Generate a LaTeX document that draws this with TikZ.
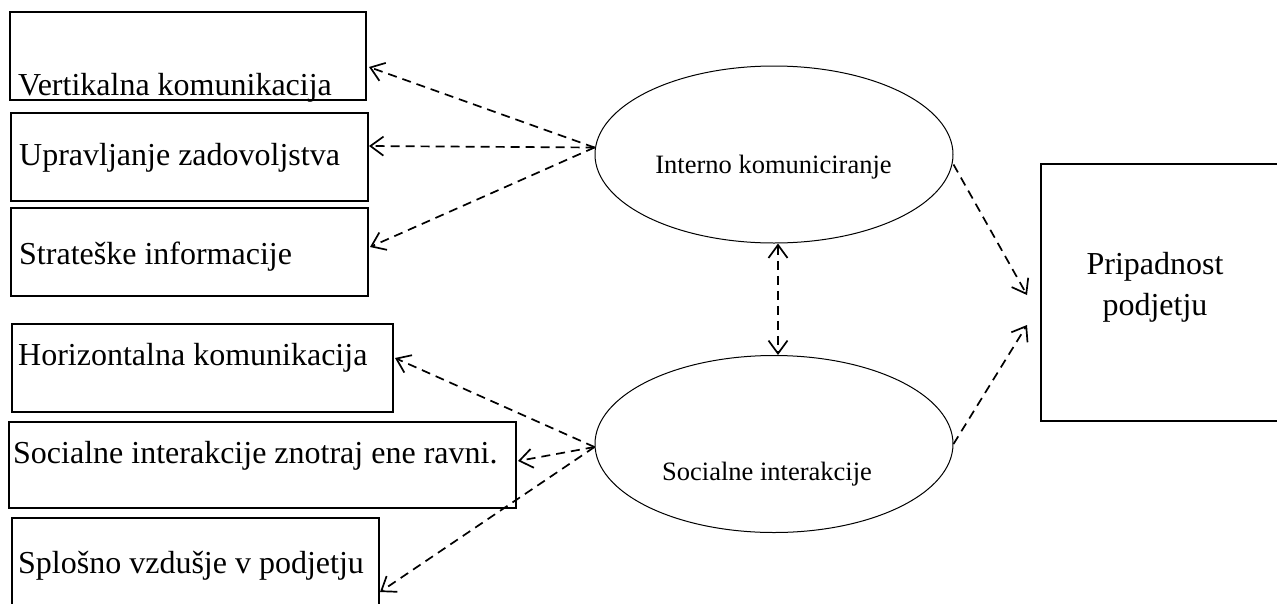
\documentclass[tikz,border=0pt]{standalone}
\usepackage{fontspec}
\setmainfont{Liberation Serif}
\usetikzlibrary{shapes.geometric,arrows.meta}

\begin{document}
\begin{tikzpicture}[x=1pt,y=-1pt,
	box/.style={draw, rectangle, line width=2pt, inner sep=0pt},
	txt/.style={anchor=base west, inner sep=0pt, font=\fontsize{32}{41}\selectfont},
	oval/.style={draw, ellipse, line width=1pt, minimum width=358pt, minimum height=177pt, inner sep=0pt},
	otxt/.style={anchor=base, inner sep=0pt, font=\fontsize{26.5}{30}\selectfont},
	arr/.style={line width=1.7pt, dash pattern=on 9pt off 6pt, -{Straight Barb[length=13pt,width=19pt]}},
	arrb/.style={line width=1.7pt, dash pattern=on 9pt off 6pt, {Straight Barb[length=13pt,width=19pt]}-{Straight Barb[length=13pt,width=19pt]}}]
			\useasboundingbox (0,0) rectangle (1277,603);
			\clip (0,0) rectangle (1277,603);
			
			\node[box, minimum width=356pt, minimum height=88pt] (vert) at (188,56) {};
			\node[box, minimum width=357pt, minimum height=88pt] (upr) at (189.5,157) {};
			\node[box, minimum width=357pt, minimum height=88pt] (strat) at (189.5,252) {};
			\node[box, minimum width=381pt, minimum height=88pt] (hor) at (202.5,368) {};
			\node[box, minimum width=507pt, minimum height=86pt] (ravn) at (262.5,465) {};
			\node[box, minimum width=367pt, minimum height=90pt] (vzd) at (195.5,563) {};
			\node[box, line width=2.6pt, minimum width=249pt, minimum height=257pt] (prip) at (1165.5,292.5) {};
			
			\node[txt] (vertT) at (18,95) {Vertikalna komunikacija};
			\node[txt] (uprT) at (19,165) {Upravljanje zadovoljstva};
			\node[txt] (stratT) at (19,264) {Strateške informacije};
			\node[txt] (horT) at (18,365) {Horizontalna komunikacija};
			\node[txt] (ravnT) at (13,463) {Socialne interakcije znotraj ene ravni.};
			\node[txt] (vzdT) at (18,573) {Splošno vzdušje v podjetju};
			\node[txt, anchor=center, align=center] (pripT) at (1155,287) {Pripadnost\\podjetju};
			
			\node[oval] (int) at (774,154.5) {};
			\node[oval] (soc) at (774,444) {};
			\node[otxt] (intT) at (773.5,173) {Interno komuniciranje};
			\node[otxt] (socT) at (767,480) {Socialne interakcije};
			
			\coordinate (t1) at (369,67);
			\coordinate (t2) at (369,146);
			\coordinate (t3) at (370,247);
			\coordinate (t4) at (395,358);
			\coordinate (t5) at (518,461);
			\coordinate (t6) at (380,592);
			\coordinate (t7) at (1027,295);
			\coordinate (t8) at (1027,325);
			
			\draw[arr] ([yshift=7pt]int.west) -- (t1);
			\draw[arr] ([yshift=7pt]int.west) -- (t2);
			\draw[arr] ([yshift=7pt]int.west) -- (t3);
			\draw[arr] ([yshift=-3pt]soc.west) -- (t4);
			\draw[arr] ([yshift=-3pt]soc.west) -- (t5);
			\draw[arr] ([yshift=-3pt]soc.west) -- (t6);
			\draw[arr] ([yshift=-10pt]int.east) -- (t7);
			\draw[arr] (soc.east) -- (t8);
			\draw[arrb] ([xshift=4pt]int.south) -- ([xshift=4pt]soc.north);
			%\draw (prip.west) -- (soc.east);
		\end{tikzpicture}
\end{document}
